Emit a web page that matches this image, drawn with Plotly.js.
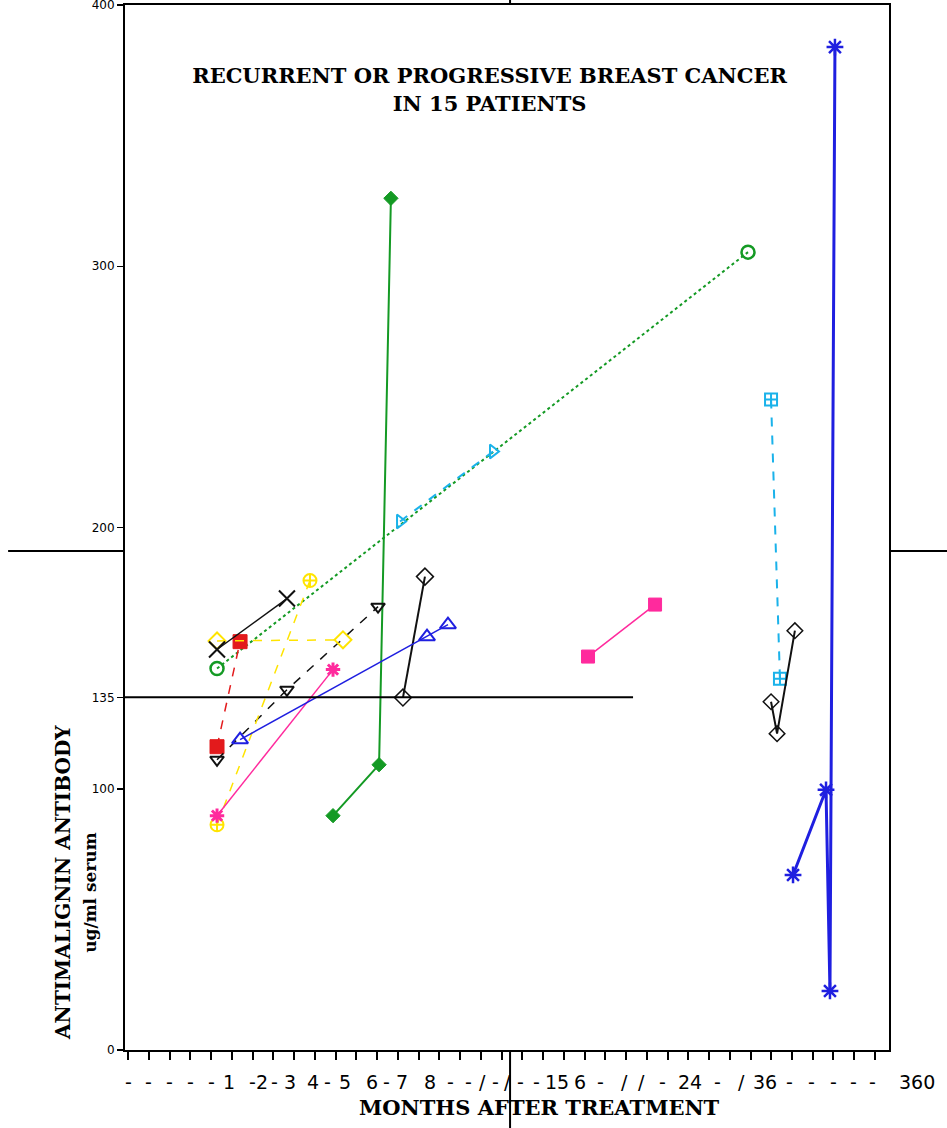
<!DOCTYPE html>
<html>
<head>
<meta charset="utf-8">
<script src="https://cdn.plot.ly/plotly-3.0.1.min.js"></script>
<style>html,body{margin:0;padding:0;background:#fff;}#chart{width:947px;height:1128px;}</style>
</head>
<body>
<div id="chart"></div>
<script>
// ---- Data (x in axis-position units along the broken month axis, y in ug/ml) ----
const redSqX = [4.29, 5.40];            const redSqY = [116.1, 156.3];
const blkTriDownX = [4.29, 7.66, 12.05]; const blkTriDownY = [111.1, 137.9, 169.7];
const yelCircX = [4.29, 8.77];          const yelCircY = [86.2, 179.7];
const yelDiaX = [4.29, 10.36];          const yelDiaY = [156.6, 157.0];
const pinkStarX = [4.29, 9.88];         const pinkStarY = [89.7, 145.6];
const blkXX = [4.29, 7.66];             const blkXY = [153.3, 172.8];
const grnCircX = [4.29, 29.88];         const grnCircY = [146.0, 305.4];
const cyanTriX = [13.11, 17.59];        const cyanTriY = [202.3, 229.1];
const grnDiaX = [9.88, 12.10, 12.67];   const grnDiaY = [89.7, 109.2, 326.0];
const blkDiaX = [13.25, 14.31];         const blkDiaY = [134.9, 181.2];
const bluTriX = [5.40, 14.41, 15.42];   const bluTriY = [118.8, 158.2, 162.8];
const pinkSqX = [22.17, 25.40];         const pinkSqY = [150.6, 170.5];
const cyanSqX = [30.99, 31.42];         const cyanSqY = [249.0, 142.1];
const blkDia2X = [30.99, 31.28, 32.14]; const blkDia2Y = [133.3, 121.1, 160.5];
const bluAstX = [32.05, 33.64, 33.83, 34.07]; const bluAstY = [67.0, 99.6, 22.6, 383.9];

const NORMAL_LIMIT = 135;
const yTickVals = [0, 100, 135, 200, 300, 400];
const xTickLabels = ['-','-','-','-','-','1','-','2','-','3','4','-','5','6','-','7','8','-','-','/','-','/','-','-','15','6','-','/','/','-','24','-','/','36','-','-','-','-','-'];
const xTickLabelPos = [0,1,2,3,4,4.87,5.98,6.46,7.04,7.8,8.92,9.59,10.46,11.76,12.48,13.2,14.55,15.52,16.39,17.1,17.73,18.31,18.9,19.71,20.67,21.78,22.75,23.95,24.77,25.78,27.08,28.43,29.59,30.7,31.9,32.96,33.98,34.94,35.9];
const xLastLabel = '360';

const RED='#e31a1c', BLK='#111111', YEL='#ffe400', PINK='#ff2a9d', GRN='#149a24', CYAN='#1ab2ea', BLUE='#1f1fe0';

function tr(x, y, color, symbol, size, dash, width, mlw, fill) {
  return {
    x: x, y: y, type: 'scatter', mode: 'lines+markers', cliponaxis: false,
    line: {color: color, dash: dash, width: width},
    marker: {symbol: symbol, size: size, color: fill || color, line: {color: color, width: mlw}},
    showlegend: false, hoverinfo: 'x+y'
  };
}

const traces = [
  tr(grnCircX, grnCircY, GRN, 'circle-open', 13, 'dot', 2, 2.5),
  tr(cyanTriX, cyanTriY, CYAN, 'triangle-right-open', 12, 'dash', 2, 2),
  tr(grnDiaX, grnDiaY, GRN, 'diamond', 11, 'solid', 2, 1),
  tr(redSqX, redSqY, RED, 'square', 14, 'dash', 1.5, 1),
  tr(blkTriDownX, blkTriDownY, BLK, 'triangle-down-open', 12, 'dash', 1.5, 2),
  tr(yelCircX, yelCircY, YEL, 'circle-cross-open', 13, 'dash', 1.5, 2),
  tr(yelDiaX, yelDiaY, YEL, 'diamond-open', 13, 'dash', 1.5, 2),
  tr(pinkStarX, pinkStarY, PINK, 'asterisk-open', 12, 'solid', 1.5, 3),
  tr(blkXX, blkXY, BLK, 'x-thin-open', 16, 'solid', 1.5, 2),
  tr(blkDiaX, blkDiaY, BLK, 'diamond-open', 13, 'solid', 2, 1.5),
  tr(bluTriX, bluTriY, BLUE, 'triangle-up-open', 14, 'solid', 1.5, 2),
  tr(pinkSqX, pinkSqY, PINK, 'square', 13, 'solid', 1.5, 1),
  tr(cyanSqX, cyanSqY, CYAN, 'square-cross-open', 12, 'dash', 2, 2),
  tr(blkDia2X, blkDia2Y, BLK, 'diamond-open', 12, 'solid', 2, 1.5),
  tr(bluAstX, bluAstY, BLUE, 'asterisk-open', 14, 'solid', 3, 2.5)
];

const tickFont = {family: 'DejaVu Sans', size: 19, color: '#000'};
const annotations = xTickLabels.map((t, i) => ({
  x: xTickLabelPos[i], xref: 'x', y: -0.018, yref: 'paper', yanchor: 'top', xanchor: 'center',
  text: t, showarrow: false, font: tickFont
}));
annotations.push({
  x: 1.037, xref: 'paper', y: -0.018, yref: 'paper', yanchor: 'top', xanchor: 'center',
  text: xLastLabel, showarrow: false, font: tickFont
});
annotations.push({
  x: 0.543, xref: 'paper', y: -0.0555, yref: 'paper', yanchor: 'middle', xanchor: 'center',
  text: '<b>MONTHS AFTER TREATMENT</b>', showarrow: false,
  font: {family: 'DejaVu Serif', size: 21, color: '#000'}
});
annotations.push({
  x: -0.081, xref: 'paper', y: 0.16, yref: 'paper', xanchor: 'center', yanchor: 'middle', textangle: -90,
  text: '<b>ANTIMALIGNIN ANTIBODY</b>', showarrow: false,
  font: {family: 'DejaVu Serif', size: 20, color: '#000'}
});
annotations.push({
  x: -0.045, xref: 'paper', y: 0.151, yref: 'paper', xanchor: 'center', yanchor: 'middle', textangle: -90,
  text: '<b>ug/ml serum</b>', showarrow: false,
  font: {family: 'DejaVu Serif', size: 17, color: '#000'}
});

const layout = {
  width: 947, height: 1128,
  margin: {l: 125, r: 58, t: 5, b: 78},
  paper_bgcolor: '#fff', plot_bgcolor: '#fff',
  title: {
    text: '<b>RECURRENT OR PROGRESSIVE BREAST CANCER<br>IN 15 PATIENTS</b>',
    x: 0.517, xref: 'container', xanchor: 'center',
    y: 0.926, yref: 'container', yanchor: 'middle',
    font: {family: 'DejaVu Serif', size: 21, color: '#000'}
  },
  xaxis: {
    range: [-0.145, 36.675], tickmode: 'linear', tick0: 0, dtick: 1,
    ticks: 'outside', ticklen: 8, tickwidth: 2, tickcolor: '#000',
    showticklabels: false, showgrid: false, zeroline: false,
    showline: true, mirror: true, linecolor: '#000', linewidth: 2
  },
  yaxis: {
    range: [0, 400], tickmode: 'array', tickvals: yTickVals,
    ticks: 'outside', ticklen: 6, tickwidth: 1.5, tickcolor: '#000',
    tickfont: {family: 'DejaVu Sans', size: 12, color: '#000'},
    ticklabeloverflow: 'allow',
    showgrid: false, zeroline: false,
    showline: true, mirror: true, linecolor: '#000', linewidth: 2
  },
  shapes: [
    {type: 'line', xref: 'x', yref: 'y', x0: -0.145, x1: 24.34, y0: NORMAL_LIMIT, y1: NORMAL_LIMIT, line: {color: '#000', width: 2}},
    {type: 'line', xref: 'paper', yref: 'paper', x0: -0.153, x1: 0, y0: 0.4775, y1: 0.4775, line: {color: '#000', width: 2}},
    {type: 'line', xref: 'paper', yref: 'paper', x0: 1, x1: 1.08, y0: 0.4775, y1: 0.4775, line: {color: '#000', width: 2}},
    {type: 'line', xref: 'paper', yref: 'paper', x0: 0.504, x1: 0.504, y0: 1, y1: 1.006, line: {color: '#000', width: 2}},
    {type: 'line', xref: 'paper', yref: 'paper', x0: 0.504, x1: 0.504, y0: 0, y1: -0.08, line: {color: '#000', width: 2}}
  ],
  annotations: annotations
};

Plotly.newPlot('chart', traces, layout, {displayModeBar: false, staticPlot: true});
</script>
</body>
</html>
